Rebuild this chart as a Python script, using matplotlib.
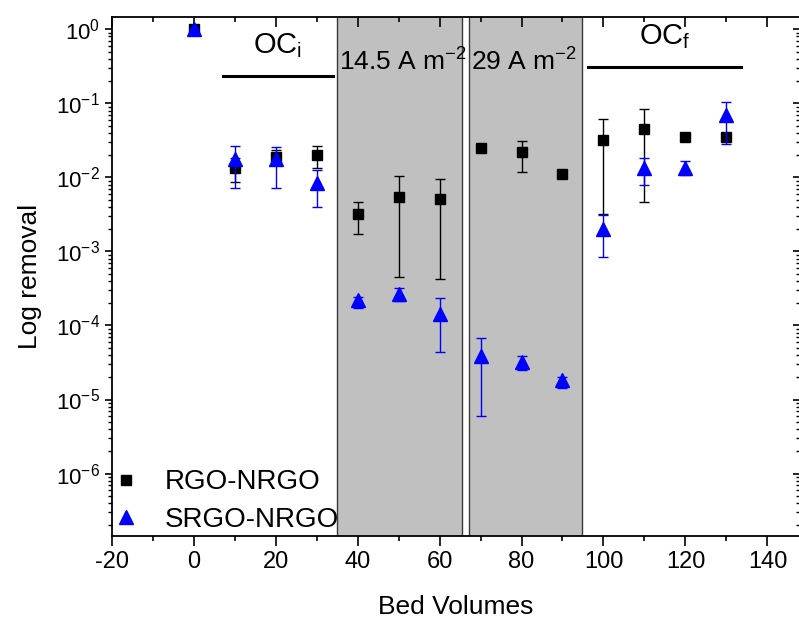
import numpy as np
import matplotlib.pyplot as plt
from matplotlib.lines import Line2D
from matplotlib.patches import Rectangle

plt.rcParams['font.family'] = ['Liberation Sans', 'DejaVu Sans']
plt.rcParams['mathtext.fontset'] = 'custom'
plt.rcParams['mathtext.rm'] = 'Liberation Sans'
plt.rcParams['mathtext.it'] = 'Liberation Sans:italic'
plt.rcParams['axes.unicode_minus'] = False

# Bed volumes
bed_volumes = [0, 10, 20, 30, 40, 50, 60, 70, 80, 90, 100, 110, 120, 130]

# RGO-NRGO (squares): value, lower and upper end of error bar
rgo = [1.0, 0.0132, 0.0186, 0.020, 0.0032, 0.0055, 0.0051, 0.0247, 0.0218, 0.0111, 0.0319, 0.045, 0.0347, 0.0354]
rgo_lo = [1.0, 0.0086, 0.0145, 0.0136, 0.0017, 0.00045, 0.00043, 0.0247, 0.0119, 0.0111, 0.0032, 0.0047, 0.0347, 0.033]
rgo_hi = [1.0, 0.018, 0.0235, 0.0262, 0.0046, 0.0105, 0.0096, 0.0247, 0.0313, 0.0111, 0.0608, 0.0845, 0.0347, 0.038]

# SRGO-NRGO (triangles)
srgo = [1.0, 0.0175, 0.0175, 0.0085, 2.2e-4, 2.7e-4, 1.45e-4, 3.85e-5, 3.2e-5, 1.82e-5, 0.00198, 0.0135, 0.0136, 0.0695]
srgo_lo = [1.0, 0.0072, 0.0072, 0.0040, 1.74e-4, 2.13e-4, 4.45e-5, 6.0e-6, 2.5e-5, 1.44e-5, 8.46e-4, 0.0079, 0.0107, 0.0282]
srgo_hi = [1.0, 0.0267, 0.0254, 0.0126, 2.4e-4, 3.2e-4, 2.34e-4, 6.7e-5, 3.9e-5, 2.0e-5, 0.0031, 0.0184, 0.0167, 0.103]

# Current density periods (shaded) and open-circuit periods (lines)
bands = [(35, 65.4, "14.5 A m$^{-2}$"), (67.1, 94.7, "29 A m$^{-2}$")]
oc_periods = [(7.1, 34.1, 0.233, "OC$_{\\mathrm{i}}$"), (96.1, 133.6, 0.312, "OC$_{\\mathrm{f}}$")]

x = np.array(bed_volumes)
rgo, rgo_lo, rgo_hi = map(np.array, (rgo, rgo_lo, rgo_hi))
srgo, srgo_lo, srgo_hi = map(np.array, (srgo, srgo_lo, srgo_hi))

fig = plt.figure(figsize=(7.99, 6.21), dpi=100)
ax = fig.add_axes([0.1396, 0.1374, 0.8620, 0.8357])

ax.set_yscale('log')
ax.set_xlim(-20, 148)
ax.set_ylim(1.45e-7, 1.48)

for x0, x1, label in bands:
    ax.add_patch(Rectangle((x0, 1e-9), x1 - x0, 1e3, facecolor='#c0c0c0',
                           edgecolor='#3a3a3a', linewidth=1.0, zorder=0))
    ax.text(x0 + 0.6, 0.36, label, fontsize=19, ha='left', va='center', zorder=1)

for x0, x1, yv, label in oc_periods:
    ax.plot([x0, x1], [yv, yv], color='black', lw=2.2, zorder=1)
    ax.text((x0 + x1) / 2, yv * 2.55, label, fontsize=21, ha='center', va='center')

ax.errorbar(x, rgo, yerr=[rgo - rgo_lo, rgo_hi - rgo], fmt='s', color='black',
            ms=7.5, capsize=3.8, elinewidth=1.0, capthick=1.0, zorder=3)
ax.errorbar(x, srgo, yerr=[srgo - srgo_lo, srgo_hi - srgo], fmt='^', color='#0000ff',
            ms=10, capsize=3.8, elinewidth=1.0, capthick=1.0, zorder=4)

handles = [Line2D([], [], marker='s', color='black', ls='none', ms=7.5),
           Line2D([], [], marker='^', color='#0000ff', ls='none', ms=10)]
ax.legend(handles, ['RGO-NRGO', 'SRGO-NRGO'], loc='lower left', frameon=False,
          fontsize=20, handletextpad=0.9, borderaxespad=0.0, labelspacing=0.4,
          handlelength=1.0, borderpad=0.15, bbox_to_anchor=(-0.005, -0.002))

ax.set_xticks(np.arange(-20, 141, 20))
ax.set_xticks(np.arange(-10, 141, 20), minor=True)
ax.tick_params(axis='x', which='major', direction='out', length=7, width=1.2, labelsize=17,
               top=True, pad=4)
ax.tick_params(axis='x', which='minor', direction='out', length=3.5, width=1.2, top=True)
ax.tick_params(axis='y', which='major', direction='out', length=5, width=1.2, labelsize=16,
               right=True)
ax.tick_params(axis='y', which='minor', direction='out', length=3, width=1.0, right=True)
# top and right ticks point inwards
for t in ax.xaxis.get_major_ticks() + ax.xaxis.get_minor_ticks():
    t.tick2line.set_marker(3)
for t in ax.yaxis.get_major_ticks() + ax.yaxis.get_minor_ticks():
    t.tick2line.set_marker(0)

for s in ax.spines.values():
    s.set_linewidth(1.3)

ax.set_xlabel('Bed Volumes', fontsize=19, labelpad=16)
ax.set_ylabel('Log removal', fontsize=19, labelpad=10)

fig.savefig('out.png', dpi=100)
